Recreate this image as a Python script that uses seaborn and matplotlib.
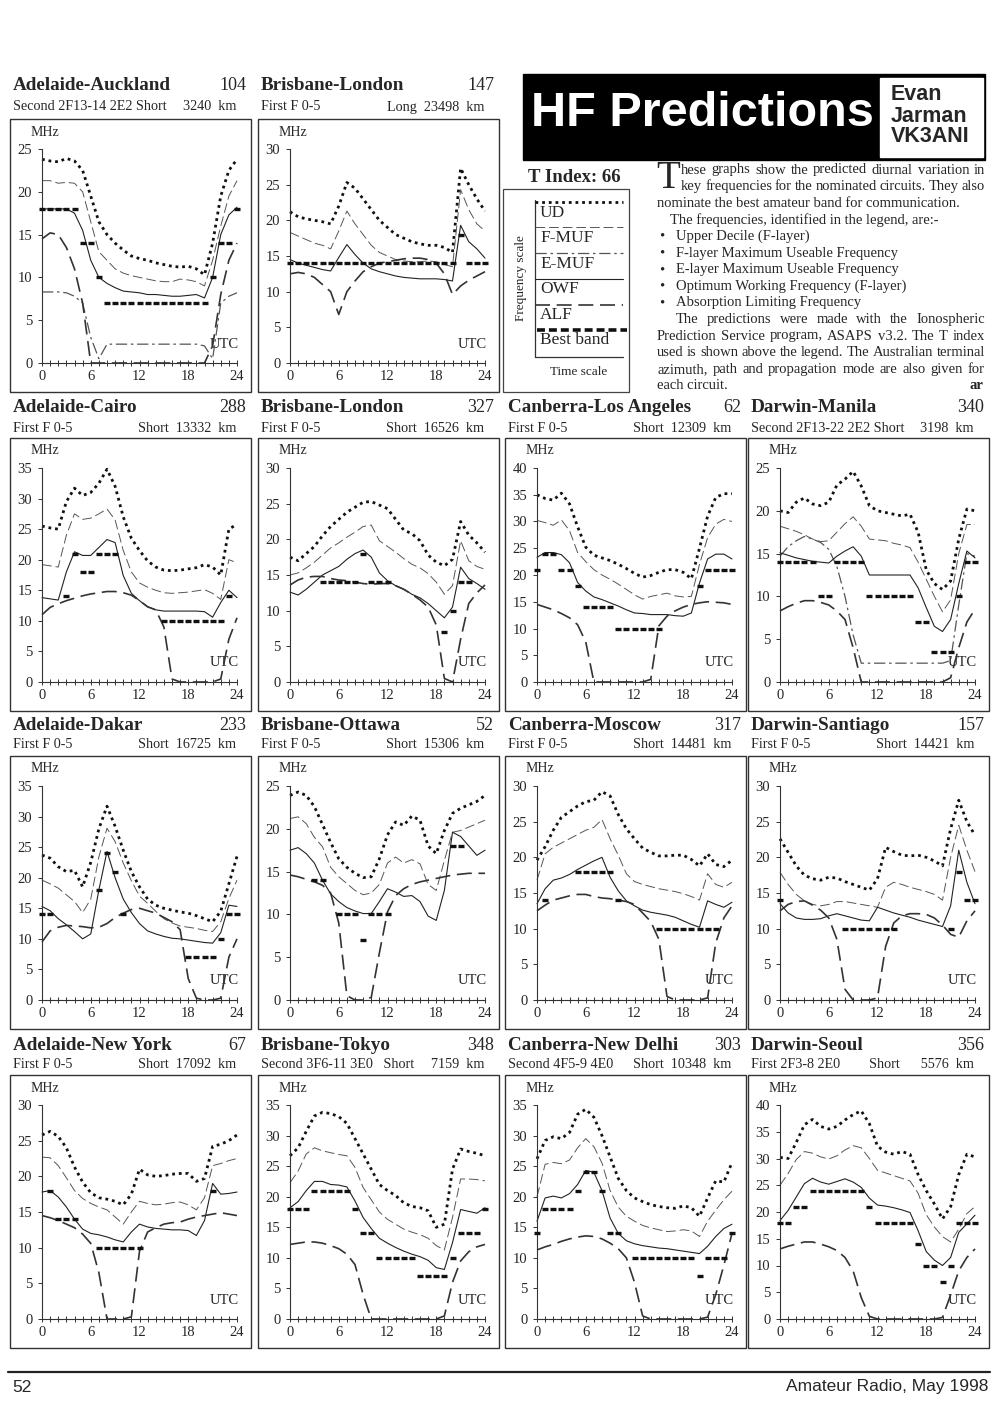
import numpy as np
import seaborn as sns
import matplotlib.pyplot as plt
from matplotlib.patches import Rectangle

N = np.nan
HOURS = list(range(25))

# ---- Adelaide-Auckland
AUCK_UD = [23.8, 23.6, 23.5, 23.9, 23.6, 22.5, 19.5, 16.5, 15.0, 14.0, 13.2, 12.5, 12.2, 12.0, 11.7, 11.5, 11.3, 11.2, 11.3, 11.0, 10.3, 14.0, 19.5, 22.5, 23.8]
AUCK_FMUF = [21.3, 21.3, 21.0, 21.1, 21.0, 20.0, 16.5, 13.0, 12.0, 11.0, 10.5, 10.2, 10.0, 9.8, 9.6, 9.5, 9.5, 9.8, 9.7, 9.5, 9.0, 12.0, 16.0, 19.5, 21.3]
AUCK_EMUF = [8.3, 8.3, 8.3, 8.2, 7.8, 7.0, 3.0, 0.5, 2.2, 2.2, 2.2, 2.2, 2.2, 2.2, 2.2, 2.2, 2.2, 2.2, 2.2, 2.2, 2.0, 0.5, 7.0, 7.8, 8.2]
AUCK_OWF = [18.0, 18.0, 18.0, 18.0, 17.5, 15.5, 12.0, 10.0, 9.3, 8.8, 8.4, 8.3, 8.2, 8.0, 8.0, 7.9, 7.8, 7.8, 7.9, 8.0, 7.6, 10.0, 15.0, 17.3, 18.2]
AUCK_ALF = [14.5, 15.2, 15.0, 13.5, 11.0, 7.0, 0.0, 0.0, 0.0, 0.0, 0.0, 0.0, 0.0, 0.0, 0.0, 0.0, 0.0, 0.0, 0.0, 0.0, 0.0, 2.0, 8.0, 12.0, 14.0]
AUCK_BAND = [18, 18, 18, 18, 18, 14, 14, 10, 7, 7, 7, 7, 7, 7, 7, 7, 7, 7, 7, 7, 7, 10, 14, 14, 18]

# ---- Brisbane-London (long path)
LON1_UD = [21.2, 20.5, 20.2, 20.0, 19.8, 19.5, 22.0, 25.3, 24.5, 23.0, 21.5, 20.0, 19.0, 18.0, 17.5, 17.0, 16.7, 16.5, 16.5, 16.2, 15.5, 27.3, 25.0, 23.0, 21.3]
LON1_FMUF = [18.3, 17.8, 17.3, 16.8, 16.5, 16.0, 18.5, 21.3, 19.5, 18.0, 16.5, 15.5, 15.0, 14.5, 14.3, 14.2, 14.2, 14.3, 14.2, 13.8, 13.5, 24.3, 21.5, 19.5, 18.5]
LON1_OWF = [14.5, 14.0, 13.7, 13.4, 13.1, 12.9, 14.8, 16.6, 15.2, 14.0, 13.2, 12.8, 12.5, 12.2, 12.0, 11.9, 11.8, 11.8, 11.8, 11.7, 11.5, 19.3, 17.0, 16.0, 14.7]
LON1_ALF = [12.5, 12.7, 12.5, 12.0, 11.0, 10.0, 6.8, 10.0, 11.5, 12.8, 13.5, 14.0, 14.2, 14.4, 14.6, 14.7, 14.7, 14.5, 14.0, 12.5, 9.6, 10.8, 11.6, 12.2, 12.8]
LON1_BAND = [14, 14, 14, 14, 14, 14, 14, 14, 14, 14, 14, 14, 14, 14, 14, 14, 14, 14, 14, 14, 14, 18, 14, 14, 14]

# ---- Adelaide-Cairo
CAI_UD = [25.5, 25.2, 25.0, 29.5, 31.7, 30.5, 31.0, 32.5, 34.8, 32.0, 27.0, 23.5, 21.5, 19.8, 18.8, 18.3, 18.2, 18.3, 18.5, 18.7, 19.2, 18.8, 17.5, 25.0, 25.8]
CAI_FMUF = [19.2, 19.0, 18.8, 24.0, 27.5, 26.6, 26.8, 27.5, 28.3, 26.5, 21.5, 18.0, 16.2, 15.5, 15.0, 14.6, 14.5, 14.6, 14.7, 14.9, 15.1, 14.5, 13.5, 20.0, 19.5]
CAI_OWF = [13.8, 13.6, 13.4, 18.0, 21.3, 20.7, 20.7, 22.0, 23.3, 22.8, 17.4, 14.5, 13.3, 12.3, 11.8, 11.6, 11.6, 11.6, 11.6, 11.6, 11.5, 10.6, 13.0, 15.0, 13.8]
CAI_ALF = [11.0, 12.2, 12.8, 13.3, 13.7, 14.1, 14.4, 14.6, 14.8, 14.8, 14.6, 14.2, 13.3, 12.3, 11.8, 9.0, 0.5, 0.0, 0.0, 0.0, 0.0, 0.0, 0.5, 7.0, 10.5]
CAI_BAND = [N, N, N, 14, 21, 18, 18, 21, 21, 21, N, N, N, N, N, 10, 10, 10, 10, 10, 10, 10, 10, 14, N]

# ---- Brisbane-London (short path)
LON2_UD = [17.5, 17.0, 18.0, 19.0, 20.5, 21.8, 22.8, 23.8, 24.5, 25.2, 25.3, 24.8, 24.3, 22.8, 21.3, 20.8, 19.8, 17.8, 16.8, 16.3, 17.2, 22.5, 20.6, 19.5, 18.2]
LON2_FMUF = [15.0, 15.3, 16.0, 16.8, 17.8, 18.8, 19.5, 20.3, 21.0, 21.8, 22.0, 19.8, 19.0, 18.2, 17.3, 16.5, 16.0, 15.2, 14.0, 12.3, 13.5, 19.8, 17.0, 16.2, 15.8]
LON2_OWF = [12.6, 12.2, 13.0, 14.0, 15.0, 15.6, 16.2, 17.2, 18.0, 18.5, 17.5, 15.3, 14.2, 13.5, 13.0, 12.3, 11.8, 11.0, 10.0, 9.0, 10.5, 16.1, 14.5, 13.8, 13.0]
LON2_ALF = [13.6, 14.3, 14.7, 14.8, 14.8, 14.5, 14.3, 14.2, 14.0, 13.8, 13.7, 13.8, 13.8, 13.5, 13.0, 12.3, 11.5, 10.5, 8.0, 0.5, 0.0, 6.0, 11.0, 12.5, 13.6]
LON2_BAND = [N, N, N, N, 14, 14, 14, 14, 14, 18, 14, 14, 14, N, N, N, N, N, N, 7, 10, 14, 14, N, N]

# ---- Canberra-Los Angeles
LA_UD = [35.0, 34.3, 34.0, 35.3, 33.3, 29.0, 25.2, 23.7, 23.2, 22.7, 22.0, 21.2, 20.3, 19.6, 19.9, 20.5, 21.0, 21.0, 20.5, 19.3, 25.0, 31.0, 34.5, 35.2, 35.2]
LA_FMUF = [30.2, 29.8, 29.3, 30.3, 28.3, 24.2, 22.5, 21.0, 20.0, 19.2, 18.3, 17.3, 16.3, 15.5, 16.0, 16.3, 16.6, 16.1, 15.9, 16.0, 22.0, 27.0, 29.5, 30.4, 30.0]
LA_OWF = [23.3, 24.2, 24.2, 23.8, 22.3, 18.6, 17.0, 15.9, 15.4, 14.8, 14.2, 13.5, 12.9, 12.8, 12.6, 12.6, 12.6, 12.4, 12.3, 12.9, 18.5, 23.0, 23.9, 23.9, 23.0]
LA_ALF = [14.5, 14.0, 13.5, 12.8, 12.0, 10.7, 7.5, 0.0, 0.0, 0.0, 0.0, 0.0, 0.0, 0.0, 0.5, 10.5, 12.3, 13.3, 14.0, 14.5, 14.8, 15.0, 14.9, 14.8, 14.5]
LA_BAND = [21, 24, 24, 21, 21, 18, 14, 14, 14, 14, 10, 10, 10, 10, 10, 10, N, N, N, N, 18, 21, 21, 21, 21]

# ---- Darwin-Manila
MAN_UD = [20.0, 19.8, 21.0, 21.5, 20.8, 20.6, 21.0, 23.0, 23.7, 24.6, 22.9, 20.6, 20.0, 19.8, 19.6, 19.4, 19.6, 17.5, 13.1, 11.5, 10.8, 11.8, 16.7, 20.2, 20.0]
MAN_FMUF = [18.2, 17.9, 17.6, 17.2, 16.7, 16.4, 16.5, 17.5, 18.5, 19.3, 18.2, 16.7, 16.6, 16.5, 16.2, 16.0, 15.7, 14.0, 12.0, 10.0, 8.2, 9.6, 15.0, 18.4, 18.4]
MAN_EMUF = [14.7, 15.8, 16.5, 17.0, 16.7, 16.3, 15.5, 13.5, 10.0, 5.5, 2.2, 2.2, 2.2, 2.2, 2.2, 2.2, 2.2, 2.2, 2.2, 2.2, 2.2, 2.5, 9.0, 15.0, 14.7]
MAN_OWF = [15.1, 14.8, 14.5, 14.3, 14.1, 14.0, 13.9, 14.7, 15.3, 15.8, 14.7, 12.5, 12.5, 12.5, 12.5, 12.5, 12.5, 11.0, 8.7, 6.5, 5.9, 7.3, 11.5, 15.3, 14.5]
MAN_ALF = [8.3, 8.8, 9.2, 9.5, 9.5, 9.3, 9.0, 8.3, 7.3, 4.0, 0.0, 0.0, 0.0, 0.0, 0.0, 0.0, 0.0, 0.0, 0.0, 0.0, 0.0, 0.5, 4.0, 7.0, 8.5]
MAN_BAND = [14, 14, 14, 14, 14, 10, 10, 14, 14, 14, 14, 10, 10, 10, 10, 10, 10, 7, 7, 3.5, 3.5, 3.5, 10, 14, 14]

# ---- Adelaide-Dakar
DAK_UD = [23.7, 23.2, 21.8, 21.0, 21.2, 18.5, 22.5, 28.0, 31.7, 28.4, 24.5, 21.0, 18.5, 16.5, 15.5, 15.0, 14.7, 14.4, 14.2, 13.8, 13.3, 12.8, 14.5, 19.0, 23.5]
DAK_FMUF = [19.6, 19.0, 18.3, 17.2, 16.1, 14.3, 16.5, 23.4, 28.1, 25.9, 22.4, 19.5, 17.0, 15.8, 14.5, 13.3, 12.6, 12.1, 11.9, 11.7, 11.4, 11.2, 12.8, 16.6, 19.6]
DAK_OWF = [15.3, 14.6, 13.3, 12.3, 11.2, 10.0, 10.8, 18.0, 24.3, 20.0, 16.5, 14.3, 12.5, 11.3, 10.8, 10.4, 10.1, 10.0, 9.8, 9.6, 9.4, 9.3, 11.0, 15.5, 15.3]
DAK_ALF = [9.5, 11.3, 11.9, 12.2, 12.1, 12.0, 11.8, 11.9, 12.5, 13.5, 14.2, 14.8, 15.0, 14.6, 14.2, 13.5, 12.8, 11.5, 3.5, 0.3, 0.0, 0.0, 0.3, 7.0, 10.0]
DAK_BAND = [14, 14, N, N, N, N, N, 18, 24, 21, 14, N, N, N, N, N, N, N, 7, 7, 7, 7, 10, 14, 14]

# ---- Brisbane-Ottawa
OTT_UD = [23.9, 24.3, 23.9, 22.6, 20.5, 18.4, 16.5, 15.5, 14.8, 14.3, 14.4, 16.5, 19.3, 20.8, 20.4, 21.5, 21.0, 18.0, 17.1, 19.8, 21.8, 22.4, 22.8, 23.2, 23.9]
OTT_FMUF = [21.2, 21.4, 20.6, 19.0, 17.9, 15.5, 14.4, 13.6, 12.8, 12.3, 12.5, 13.5, 16.0, 16.7, 16.0, 16.4, 15.9, 13.5, 12.8, 16.3, 19.6, 19.8, 20.2, 20.6, 21.0]
OTT_OWF = [17.5, 17.8, 17.1, 16.0, 14.0, 12.4, 11.5, 10.8, 10.4, 10.1, 10.1, 11.5, 13.0, 12.6, 12.1, 12.2, 11.5, 9.8, 9.3, 12.8, 19.6, 19.1, 18.0, 16.9, 17.5]
OTT_ALF = [14.6, 14.4, 14.1, 13.8, 13.4, 12.5, 9.0, 0.5, 0.0, 0.0, 0.3, 5.5, 10.3, 12.2, 13.0, 13.5, 13.8, 14.0, 14.2, 14.4, 14.6, 14.7, 14.8, 14.8, 14.8]
OTT_BAND = [N, N, N, 14, 14, N, 10, 10, 10, 7, 10, 10, 10, N, N, N, N, N, N, N, 18, 18, N, N, N]

# ---- Canberra-Moscow
MOS_UD = [19.6, 21.5, 23.8, 25.6, 26.4, 27.2, 27.8, 28.0, 29.2, 28.6, 26.0, 24.0, 22.6, 21.3, 20.7, 20.2, 20.2, 20.3, 20.3, 19.7, 18.8, 20.5, 19.0, 18.7, 19.6]
MOS_FMUF = [16.8, 20.5, 21.4, 22.0, 22.6, 23.2, 23.8, 24.2, 25.3, 22.6, 20.3, 17.7, 16.6, 16.2, 15.9, 15.6, 15.4, 15.2, 14.9, 14.5, 14.0, 17.7, 16.2, 15.8, 16.5]
MOS_OWF = [13.5, 15.6, 16.8, 17.1, 17.6, 18.3, 18.9, 19.5, 20.0, 17.2, 15.3, 13.9, 13.2, 12.6, 12.3, 12.1, 11.9, 11.6, 11.1, 10.6, 10.2, 13.9, 13.4, 13.0, 13.7]
MOS_ALF = [12.5, 13.3, 14.0, 14.3, 14.6, 14.8, 14.8, 14.5, 14.3, 14.2, 14.0, 13.8, 13.4, 12.2, 11.0, 8.5, 0.5, 0.0, 0.0, 0.0, 0.0, 0.3, 8.0, 11.5, 13.2]
MOS_BAND = [N, 14, N, N, N, 18, 18, 18, 18, 18, 14, N, N, N, N, 10, 10, 10, 10, 10, 10, 10, 10, N, N]

# ---- Darwin-Santiago
SAN_UD = [22.6, 20.7, 18.8, 17.5, 17.0, 16.8, 17.2, 17.1, 16.6, 16.2, 15.8, 15.4, 17.0, 21.4, 20.8, 20.3, 20.2, 20.3, 20.0, 19.5, 18.8, 24.0, 28.0, 25.0, 23.1]
SAN_FMUF = [17.9, 16.2, 14.8, 13.9, 13.4, 13.2, 13.4, 13.8, 13.8, 13.6, 13.4, 13.2, 13.0, 15.8, 16.5, 16.2, 15.8, 15.5, 15.2, 14.8, 14.0, 20.0, 24.5, 21.0, 18.0]
SAN_OWF = [13.5, 12.2, 11.5, 11.3, 11.3, 11.4, 11.8, 12.1, 11.8, 11.5, 11.2, 11.1, 13.0, 12.6, 12.2, 11.9, 11.6, 11.2, 10.9, 10.6, 10.3, 13.2, 21.0, 16.5, 13.5]
SAN_ALF = [12.5, 13.4, 13.8, 13.9, 13.3, 12.6, 11.5, 8.5, 1.5, 0.0, 0.0, 0.0, 0.3, 7.5, 10.8, 11.8, 12.1, 12.1, 12.0, 11.5, 10.5, 9.2, 8.8, 11.1, 12.5]
SAN_BAND = [14, N, N, N, N, N, N, N, 10, 10, 10, 10, 10, 10, 10, N, N, N, N, N, N, 10, 18, 14, 14]

# ---- Adelaide-New York
NY_UD = [25.8, 26.3, 25.6, 24.0, 21.3, 19.2, 17.7, 17.0, 16.8, 16.5, 16.0, 17.5, 21.0, 20.2, 20.0, 20.1, 20.3, 20.4, 20.4, 19.3, 19.7, 24.2, 24.5, 25.0, 25.8]
NY_FMUF = [22.7, 22.6, 21.5, 19.8, 18.0, 16.9, 16.2, 15.7, 15.3, 14.3, 13.3, 15.0, 16.5, 16.2, 16.0, 16.1, 16.3, 16.4, 16.0, 15.3, 17.0, 21.5, 21.8, 22.2, 22.5]
NY_OWF = [17.8, 18.0, 17.1, 15.7, 14.0, 12.6, 12.0, 11.8, 11.5, 11.1, 10.8, 12.2, 13.3, 12.9, 12.7, 12.6, 12.5, 12.5, 12.4, 11.7, 13.8, 19.0, 17.5, 17.6, 17.8]
NY_ALF = [14.5, 14.2, 13.8, 13.3, 12.8, 11.9, 10.6, 6.5, 0.0, 0.0, 0.0, 0.3, 9.5, 12.2, 12.8, 13.3, 13.5, 13.6, 14.0, 14.3, 14.5, 14.7, 14.9, 14.7, 14.5]
NY_BAND = [N, 18, 14, 14, 14, N, N, 10, 10, 10, 10, 10, 10, N, N, N, N, N, N, N, N, 18, N, N, N]

# ---- Brisbane-Tokyo
TOK_UD = [26.7, 28.0, 30.7, 33.2, 33.8, 33.6, 33.1, 32.0, 29.5, 27.0, 24.5, 22.0, 21.0, 20.2, 19.0, 18.4, 18.2, 17.7, 15.0, 15.5, 24.5, 27.8, 27.4, 27.1, 26.7]
TOK_FMUF = [22.3, 24.2, 27.0, 28.0, 27.5, 27.2, 26.9, 26.7, 24.8, 21.5, 19.5, 17.5, 16.3, 15.5, 14.7, 14.2, 13.8, 13.2, 12.0, 11.3, 16.6, 22.9, 22.9, 22.8, 22.6]
TOK_OWF = [18.2, 19.2, 21.0, 22.5, 22.5, 22.0, 21.9, 21.6, 19.3, 16.6, 14.8, 13.2, 12.4, 11.7, 11.1, 10.6, 10.2, 9.6, 8.4, 8.1, 12.5, 17.9, 17.6, 17.3, 18.2]
TOK_ALF = [12.2, 12.4, 12.6, 12.6, 12.4, 12.0, 11.5, 10.6, 8.9, 4.0, 0.0, 0.0, 0.0, 0.0, 0.0, 0.0, 0.0, 0.0, 0.0, 0.5, 6.0, 9.5, 11.0, 11.8, 12.2]
TOK_BAND = [18, 18, 18, 21, 21, 21, 21, 21, 18, 14, 14, 10, 10, 10, 10, 10, 7, 7, 7, 7, 10, 14, 14, 14, 18]

# ---- Canberra-New Delhi
DEL_UD = [26.2, 29.2, 29.8, 29.5, 30.5, 33.5, 34.3, 33.0, 30.0, 26.5, 23.0, 21.0, 19.8, 19.2, 18.7, 18.4, 18.2, 18.1, 18.5, 18.2, 16.8, 19.8, 22.6, 22.4, 25.6]
DEL_FMUF = [20.0, 25.3, 25.6, 25.4, 26.0, 28.0, 29.5, 28.2, 25.5, 21.0, 18.3, 16.8, 16.0, 15.3, 14.9, 14.6, 14.3, 14.4, 14.6, 14.4, 13.5, 16.0, 17.8, 19.5, 20.9]
DEL_OWF = [16.0, 19.8, 20.1, 19.8, 20.5, 22.0, 24.3, 24.0, 21.0, 16.5, 14.0, 12.8, 12.3, 12.0, 11.8, 11.6, 11.5, 11.3, 11.1, 10.9, 10.7, 11.9, 13.5, 14.8, 15.5]
DEL_ALF = [11.3, 11.8, 12.2, 12.7, 13.1, 13.4, 13.6, 13.5, 13.1, 12.4, 11.5, 10.0, 6.0, 0.5, 0.0, 0.0, 0.0, 0.0, 0.0, 0.0, 0.0, 0.3, 4.0, 8.8, 14.0]
DEL_BAND = [14, 18, 18, 18, 18, 21, 24, 24, 21, 14, 14, N, 10, 10, 10, 10, 10, 10, 10, 10, 7, 10, 10, 10, 14]

# ---- Darwin-Seoul
SEO_UD = [30.2, 30.0, 33.0, 36.3, 37.3, 36.0, 35.5, 36.0, 37.2, 38.2, 38.9, 36.5, 32.3, 31.2, 30.8, 31.3, 30.8, 27.0, 24.0, 21.5, 18.7, 21.0, 27.0, 30.8, 30.3]
SEO_FMUF = [25.0, 27.2, 29.8, 31.3, 31.0, 30.3, 29.9, 30.5, 31.6, 32.4, 32.0, 30.0, 27.8, 27.3, 26.8, 26.3, 25.8, 23.5, 19.5, 17.2, 15.4, 14.4, 16.8, 19.7, 21.0]
SEO_OWF = [18.4, 20.3, 22.8, 25.3, 26.3, 25.6, 25.2, 25.7, 26.2, 25.6, 24.6, 22.6, 21.3, 21.1, 20.8, 20.4, 19.9, 16.5, 12.6, 11.0, 10.0, 11.5, 16.2, 17.8, 19.4]
SEO_ALF = [13.1, 13.6, 14.0, 14.4, 14.4, 14.0, 13.5, 12.8, 11.5, 9.0, 4.0, 0.5, 0.0, 0.0, 0.0, 0.0, 0.0, 0.0, 0.0, 0.0, 0.3, 4.5, 9.0, 11.5, 13.1]
SEO_BAND = [18, 18, 21, 21, 24, 24, 24, 24, 24, 24, 24, 21, 18, 18, 18, 18, 18, 14, 10, 10, 7, 10, 18, 18, 18]

# title, bearing, mode, path + distance, top of scale, (UD, F-MUF, E-MUF, OWF, ALF, best band)
CIRCUITS = [
    ("Adelaide-Auckland", "104", "Second 2F13-14 2E2 Short", "3240  km", 25,
     (AUCK_UD, AUCK_FMUF, AUCK_EMUF, AUCK_OWF, AUCK_ALF, AUCK_BAND)),
    ("Brisbane-London", "147", "First F 0-5", "Long  23498  km", 30,
     (LON1_UD, LON1_FMUF, None, LON1_OWF, LON1_ALF, LON1_BAND)),
    ("Adelaide-Cairo", "288", "First F 0-5", "Short  13332  km", 35,
     (CAI_UD, CAI_FMUF, None, CAI_OWF, CAI_ALF, CAI_BAND)),
    ("Brisbane-London", "327", "First F 0-5", "Short  16526  km", 30,
     (LON2_UD, LON2_FMUF, None, LON2_OWF, LON2_ALF, LON2_BAND)),
    ("Canberra-Los Angeles", "62", "First F 0-5", "Short  12309  km", 40,
     (LA_UD, LA_FMUF, None, LA_OWF, LA_ALF, LA_BAND)),
    ("Darwin-Manila", "340", "Second 2F13-22 2E2 Short", "3198  km", 25,
     (MAN_UD, MAN_FMUF, MAN_EMUF, MAN_OWF, MAN_ALF, MAN_BAND)),
    ("Adelaide-Dakar", "233", "First F 0-5", "Short  16725  km", 35,
     (DAK_UD, DAK_FMUF, None, DAK_OWF, DAK_ALF, DAK_BAND)),
    ("Brisbane-Ottawa", "52", "First F 0-5", "Short  15306  km", 25,
     (OTT_UD, OTT_FMUF, None, OTT_OWF, OTT_ALF, OTT_BAND)),
    ("Canberra-Moscow", "317", "First F 0-5", "Short  14481  km", 30,
     (MOS_UD, MOS_FMUF, None, MOS_OWF, MOS_ALF, MOS_BAND)),
    ("Darwin-Santiago", "157", "First F 0-5", "Short  14421  km", 30,
     (SAN_UD, SAN_FMUF, None, SAN_OWF, SAN_ALF, SAN_BAND)),
    ("Adelaide-New York", "67", "First F 0-5", "Short  17092  km", 30,
     (NY_UD, NY_FMUF, None, NY_OWF, NY_ALF, NY_BAND)),
    ("Brisbane-Tokyo", "348", "Second 3F6-11 3E0   Short", "7159  km", 35,
     (TOK_UD, TOK_FMUF, None, TOK_OWF, TOK_ALF, TOK_BAND)),
    ("Canberra-New Delhi", "303", "Second 4F5-9 4E0", "Short  10348  km", 35,
     (DEL_UD, DEL_FMUF, None, DEL_OWF, DEL_ALF, DEL_BAND)),
    ("Darwin-Seoul", "356", "First 2F3-8 2E0", "Short      5576  km", 40,
     (SEO_UD, SEO_FMUF, None, SEO_OWF, SEO_ALF, SEO_BAND)),
]

LEGEND_NAMES = ["UD", "F-MUF", "E-MUF", "OWF", "ALF", "Best band"]
BULLETS = ["Upper Decile (F-layer)",
           "F-layer Maximum Useable Frequency",
           "E-layer Maximum Useable Frequency",
           "Optimum Working Frequency (F-layer)",
           "Absorption Limiting Frequency"]

# ---------------------------------------------------------------- styling
LINE_STYLES = [
    dict(color="#111111", lw=2.0, ls=(0, (1, 1.4))),        # UD
    dict(color="#555555", lw=0.7, ls=(0, (10, 4))),         # F-MUF
    dict(color="#555555", lw=0.9, ls=(0, (9, 3, 2, 3))),    # E-MUF
    dict(color="#222222", lw=0.8, ls="-"),                  # OWF
    dict(color="#333333", lw=1.2, ls=(0, (9, 4))),          # ALF
]
W, H = 1000, 1406
COL_X = [10, 258, 505, 748]
ROW_Y = [119, 438, 756, 1075]
TITLE_Y = [85, 408, 726, 1046]
SUB_Y = [107, 428, 745, 1064]
BOX_W, BOX_H = 241, 273
SERIF = ["Liberation Serif", "DejaVu Serif"]
SANS = ["Liberation Sans", "DejaVu Sans"]

sns.set_theme(style="ticks")
plt.rcParams["font.family"] = SERIF
plt.rcParams["axes.linewidth"] = 0.8

fig = plt.figure(figsize=(W / 100, H / 100), dpi=100)
fig.patch.set_facecolor("white")
page = fig.add_axes([0, 0, 1, 1])
page.set_xlim(0, W)
page.set_ylim(H, 0)
page.axis("off")
renderer = fig.canvas.get_renderer()


def slot(i):
    if i < 2:
        return 0, i
    return 1 + (i - 2) // 4, (i - 2) % 4


def draw_chart(i, circ):
    title, bearing, mode, dist, ymax, series = circ
    row, col = slot(i)
    bx, by = COL_X[col], ROW_Y[row]
    page.add_patch(Rectangle((bx, by), BOX_W, BOX_H, fill=False, ec="#333333", lw=1.0))
    page.text(bx + 3, TITLE_Y[row], title, fontsize=13.8, fontweight="bold", va="center")
    page.text(bx + BOX_W - 5, TITLE_Y[row], bearing, fontsize=13, va="center", ha="right")
    page.text(bx + 3, SUB_Y[row], mode, fontsize=10.2, va="center")
    page.text(bx + BOX_W - 15, SUB_Y[row], dist, fontsize=10.2, va="center", ha="right")
    page.text(bx + 21, by + 13, "MHz", fontsize=10, va="center")
    page.text(bx + 229, by + 225, "UTC", fontsize=10.5, va="center", ha="right")

    ax = fig.add_axes([(bx + 32) / W, 1 - (by + 244) / H, 195 / W, 214 / H])
    ax.set_facecolor("none")
    for vals, st in zip(series[:5], LINE_STYLES):
        if vals is None:
            continue
        sns.lineplot(x=HOURS, y=vals, ax=ax, color=st["color"], linewidth=st["lw"],
                     linestyle=st["ls"], errorbar=None, clip_on=False)
    sns.lineplot(x=HOURS, y=series[5], ax=ax, errorbar=None, linestyle="", marker="_",
                 markersize=4.6, markeredgewidth=2.4, markeredgecolor="#111111",
                 color="#111111", clip_on=False, zorder=5)

    ax.set_xlim(0, 24)
    ax.set_ylim(0, ymax)
    ax.set_xticks([0, 6, 12, 18, 24])
    ax.set_xticks(HOURS, minor=True)
    ax.set_yticks(range(0, ymax + 1, 5))
    ax.set_xlabel("")
    ax.set_ylabel("")
    sns.despine(ax=ax)
    for side in ("left", "bottom"):
        ax.spines[side].set_color("#333333")
    ax.tick_params(axis="x", which="both", direction="inout", length=4, width=0.7,
                   color="#333333", labelsize=10.5, pad=3)
    ax.tick_params(axis="y", direction="out", length=3, width=0.7, color="#333333",
                   labelsize=10.5, pad=4)


for i, circ in enumerate(CIRCUITS):
    draw_chart(i, circ)

# ---------------------------------------------------------------- header
page.add_patch(Rectangle((523, 74), 462, 86, color="black"))
page.add_patch(Rectangle((880, 78), 103, 79, color="white"))
page.text(531, 113, "HF Predictions", color="white", fontsize=35, fontweight="bold",
          family=SANS, va="center")
for k, word in enumerate(["Evan", "Jarman", "VK3ANI"]):
    page.text(891, 95 + 21 * k, word, fontsize=15.5, fontweight="bold", family=SANS, va="center")

# ---------------------------------------------------------------- legend
page.text(574, 178, "T Index: 66", fontsize=13.5, fontweight="bold", ha="center", va="center")
page.add_patch(Rectangle((503, 189), 126, 203, fill=False, ec="#444444", lw=0.9))
page.plot([535, 535], [200, 357], color="#333333", lw=0.9)
legend_y = [202, 227, 253, 279, 305]
for ly, st in zip(legend_y, LINE_STYLES):
    page.plot([535, 623], [ly, ly], color=st["color"], lw=st["lw"], ls=st["ls"])
page.plot([537, 627], [330, 330], color="#111111", lw=2.6, ls=(0, (2.2, 1.1)))
page.plot([535, 623], [357, 357], color="#333333", lw=0.9)
for k, name in enumerate(LEGEND_NAMES):
    page.text(540, 213 + 25.4 * k, name, fontsize=12.5, va="center")
page.text(521, 278, "Frequency scale", fontsize=9.5, rotation=90, ha="center", va="center")
page.text(579, 372, "Time scale", fontsize=9.5, ha="center", va="center")


# ---------------------------------------------------------------- body text
def justify(text, x0, x1, y, size=10.5):
    words = text.split()
    items = [page.text(0, y, w, fontsize=size, va="center") for w in words]
    widths = [t.get_window_extent(renderer).width for t in items]
    gap = max((x1 - x0 - sum(widths)) / max(len(words) - 1, 1), 2.0)
    x = x0
    for t, w in zip(items, widths):
        t.set_x(x)
        x += w + gap


LINE0, STEP, RIGHT = 170, 16.6, 985
page.text(656, 178, "T", fontsize=28, va="center")
justify("hese graphs show the predicted diurnal variation in", 681, RIGHT, LINE0)
justify("key frequencies for the nominated circuits. They also", 681, RIGHT, LINE0 + STEP)
page.text(657, LINE0 + 2 * STEP, "nominate the best amateur band for communication.", fontsize=10.5, va="center")
page.text(670, LINE0 + 3 * STEP, "The frequencies, identified in the legend, are:-", fontsize=10.5, va="center")
for k, b in enumerate(BULLETS):
    yy = LINE0 + (4 + k) * STEP
    page.text(659, yy, "\u2022", fontsize=10.5, va="center")
    page.text(676, yy, b, fontsize=10.5, va="center")
justify("The predictions were made with the Ionospheric", 676, RIGHT, LINE0 + 9 * STEP)
justify("Prediction Service program, ASAPS v3.2. The T index", 657, RIGHT, LINE0 + 10 * STEP)
justify("used is shown above the legend. The Australian terminal", 657, RIGHT, LINE0 + 11 * STEP)
justify("azimuth, path and propagation mode are also given for", 657, RIGHT, LINE0 + 12 * STEP)
page.text(657, LINE0 + 13 * STEP, "each circuit.", fontsize=10.5, va="center")
page.text(983, LINE0 + 13 * STEP, "ar", fontsize=10.5, fontweight="bold", ha="right", va="center")

# ---------------------------------------------------------------- footer
page.plot([8, 990], [1372, 1372], color="#222222", lw=1.6)
page.text(12, 1387, "52", fontsize=12.5, family=SANS, va="center")
page.text(988, 1387, "Amateur Radio, May 1998", fontsize=12.5, family=SANS, va="center", ha="right")

fig.savefig("out.png", dpi=100, facecolor="white")
